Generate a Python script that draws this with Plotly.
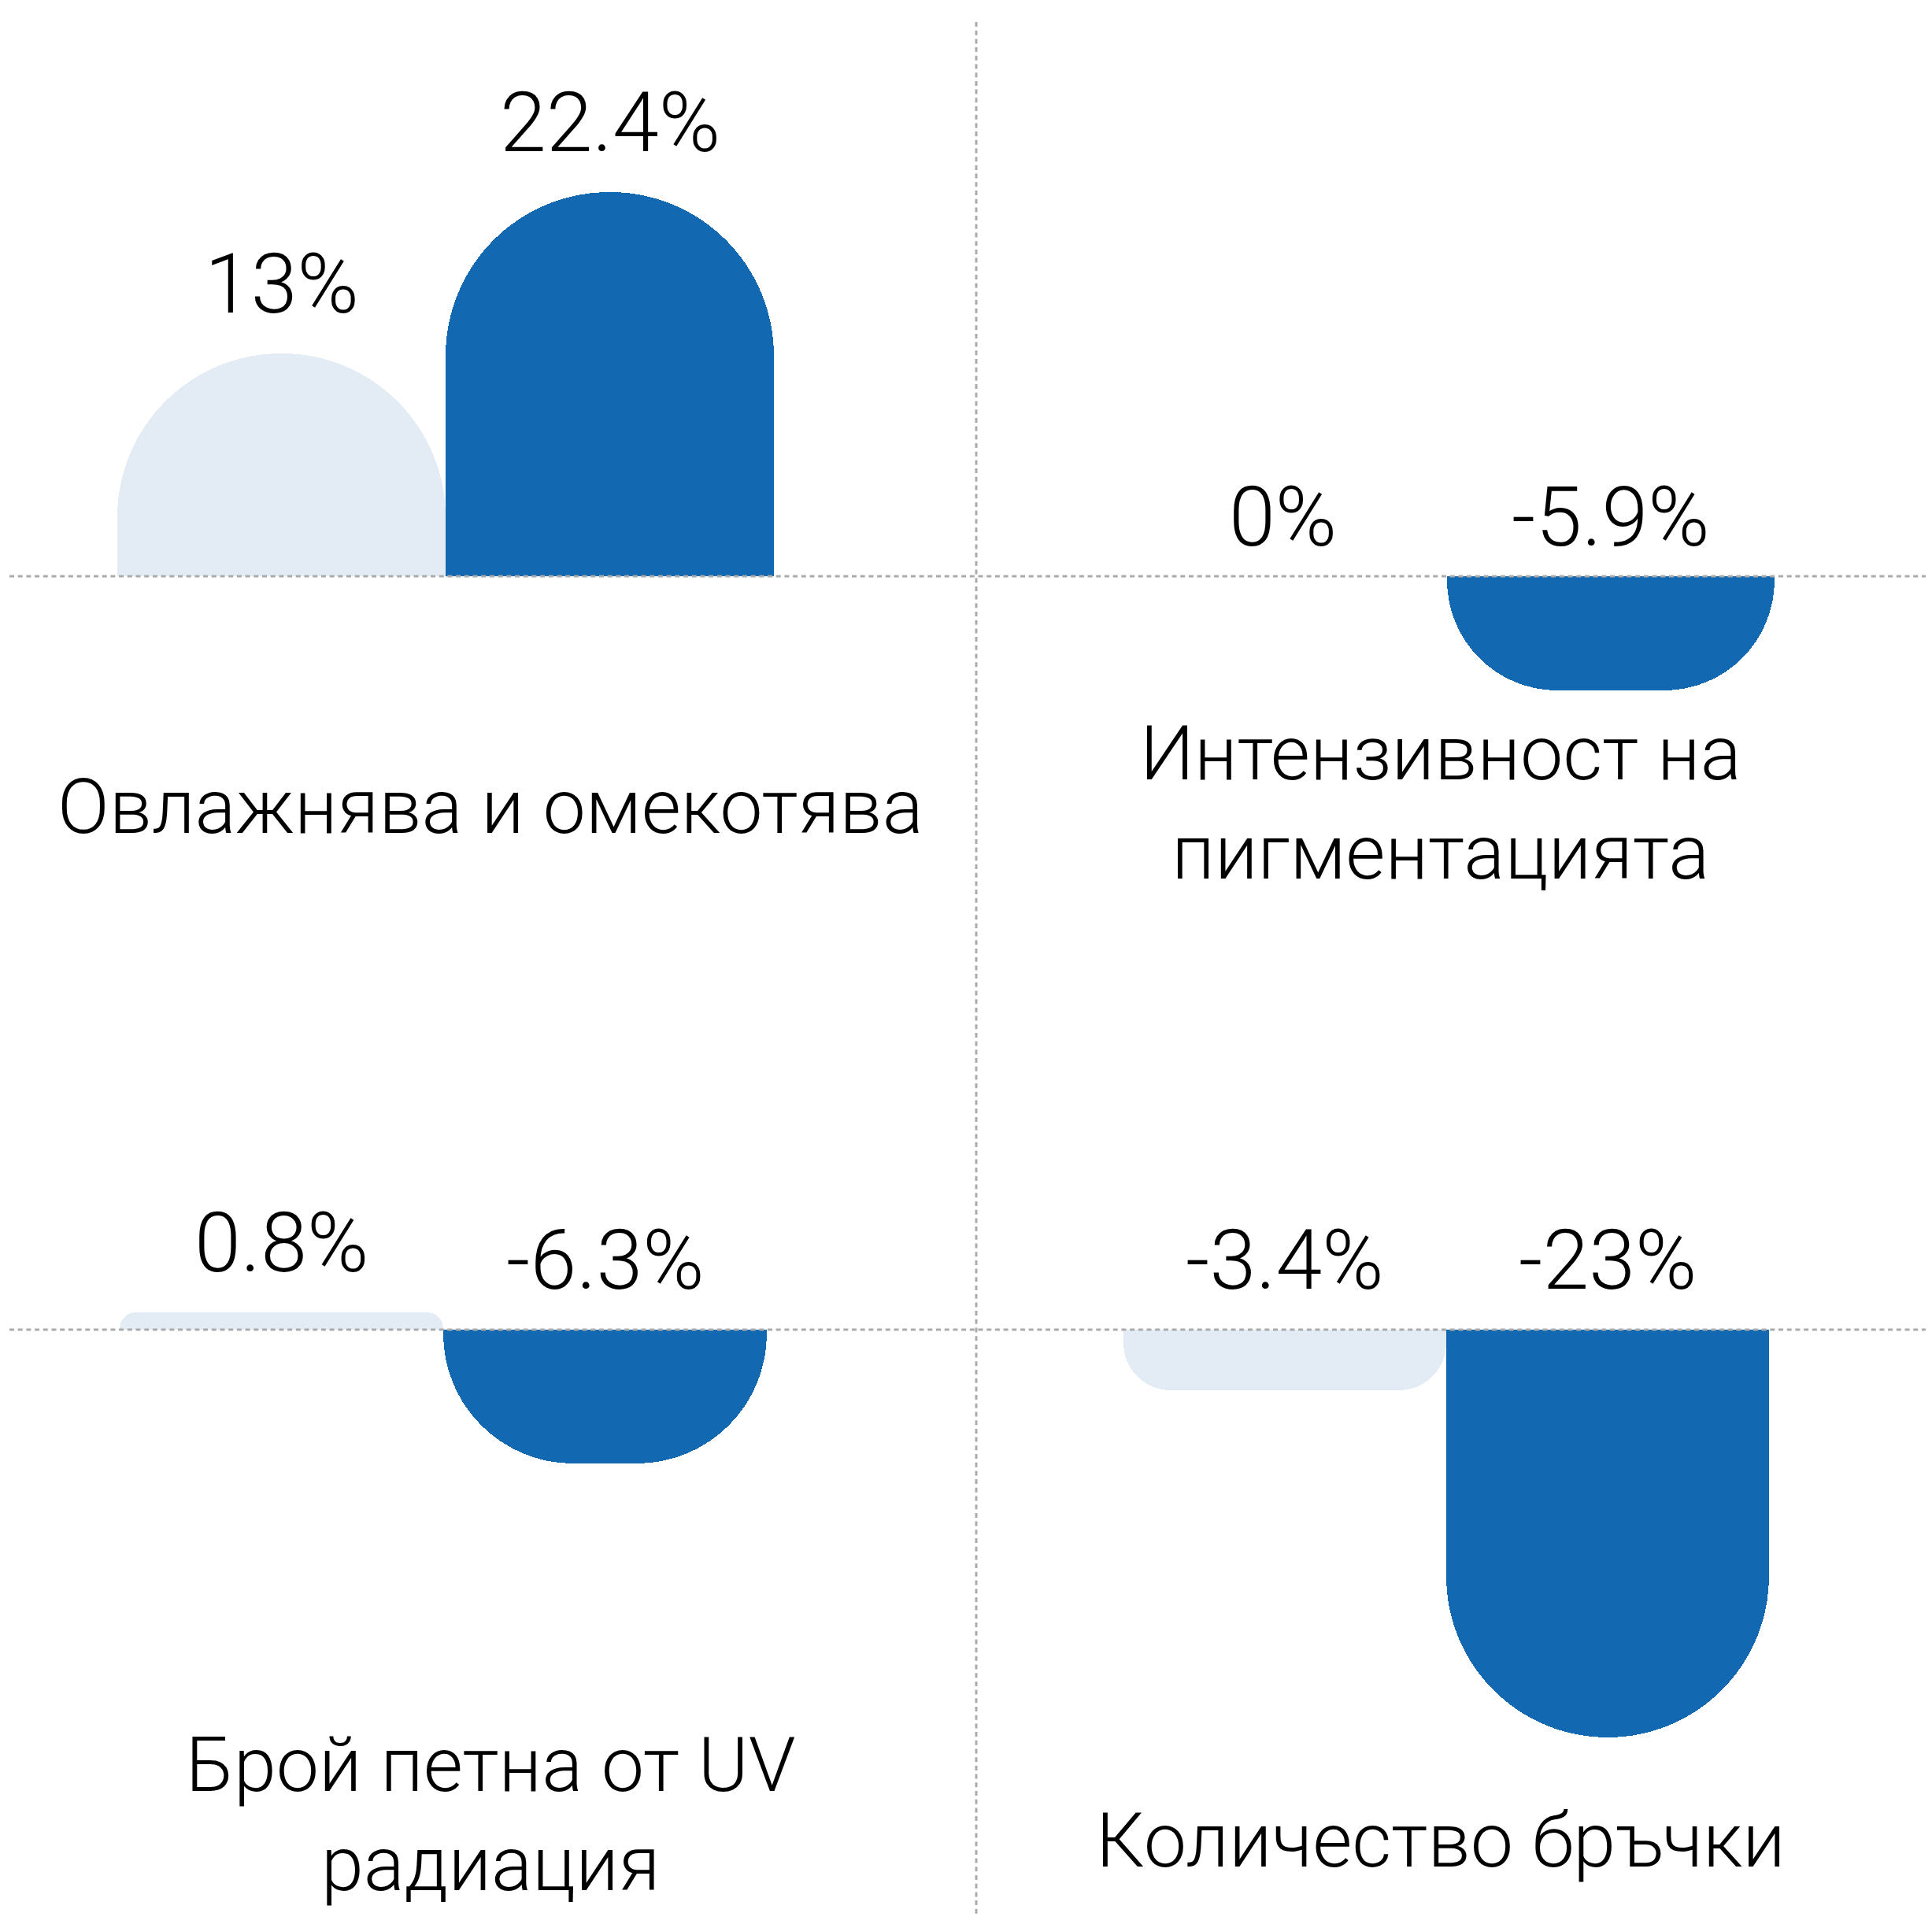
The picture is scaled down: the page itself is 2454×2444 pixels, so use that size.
import plotly.graph_objects as go

# ---------------- data ----------------
panel_titles = [
    "Овлажнява и омекотява",
    "Интензивност на<br>пигментацията",
    "Брой петна от UV<br>радиация",
    "Количество бръчки",
]
control_values = [13, 0, 0.8, -3.4]
product_values = [22.4, -5.9, -6.3, -23]
control_labels = ["13%", "0%", "0.8%", "-3.4%"]
product_labels = ["22.4%", "-5.9%", "-6.3%", "-23%"]

# ---------------- layout / style ----------------
OFF = 8                      # default page body margin of the html
W, H = 2454 - 2 * OFF, 2444 - 2 * OFF
FONT = "Roboto, Liberation Sans, Arial, sans-serif"
WEIGHT = 300
LIGHT = "#E3ECF4"
BLUE = "#1268B1"
GRID = "#ABABAB"


def px(v):
    return v - OFF


# per panel (page pixel coordinates): x extent of bar pair, zero-line y, px per unit,
# y domain, value-label offset, corner radii (control, product), title centre
panels = [
    dict(xpx=(149, 983), zero=732, ppu=21.8, ydom=(0.5, 1.0), off=88,
         rc="50%", rp="50%", title=(623, 1025)),
    dict(xpx=(1421, 2254), zero=732, ppu=24.5, ydom=(0.5, 1.0), off=75,
         rc="50%", rp=140, title=(1830, 1020)),
    dict(xpx=(152, 974), zero=1689, ppu=27.0, ydom=(0.0, 0.5), off=88,
         rc=21, rp=165, title=(623, 2305)),
    dict(xpx=(1427, 2247), zero=1689, ppu=22.5, ydom=(0.0, 0.5), off=88,
         rc=60, rp="50%", title=(1830, 2338)),
]

fig = go.Figure()
annotations = []
layout_axes = {}

for i, p in enumerate(panels):
    n = i + 1
    xa = "x" if n == 1 else f"x{n}"
    ya = "y" if n == 1 else f"y{n}"
    d0, d1 = p["ydom"]
    pt = H * (1 - d1)
    pb = H * (1 - d0)
    zero = px(p["zero"])
    r1 = (zero - pt) / p["ppu"]
    r0 = -(pb - zero) / p["ppu"]

    layout_axes["xaxis" if n == 1 else f"xaxis{n}"] = dict(
        domain=[px(p["xpx"][0]) / W, px(p["xpx"][1]) / W], range=[-0.5, 1.5],
        visible=False, fixedrange=True, anchor=ya)
    layout_axes["yaxis" if n == 1 else f"yaxis{n}"] = dict(
        domain=[d0, d1], range=[r0, r1], visible=False, fixedrange=True,
        anchor=xa)

    fig.add_trace(go.Bar(
        x=[0], y=[control_values[i]], width=[1], xaxis=xa, yaxis=ya,
        marker=dict(color=LIGHT, line=dict(width=0), cornerradius=p["rc"]),
        showlegend=False, hoverinfo="skip"))
    fig.add_trace(go.Bar(
        x=[1], y=[product_values[i]], width=[1], xaxis=xa, yaxis=ya,
        marker=dict(color=BLUE, line=dict(width=0), cornerradius=p["rp"]),
        showlegend=False, hoverinfo="skip"))

    for xi, (v, lab) in enumerate([(control_values[i], control_labels[i]),
                                   (product_values[i], product_labels[i])]):
        annotations.append(dict(
            x=xi, y=max(v, 0), xref=xa, yref=ya, text=lab, showarrow=False,
            xanchor="center", yanchor="middle", yshift=p["off"],
            font=dict(family=FONT, size=106, color="#000000", weight=WEIGHT)))

    tx, ty = p["title"]
    annotations.append(dict(
        x=px(tx) / W, y=1 - px(ty) / H, xref="paper", yref="paper",
        text=panel_titles[i], showarrow=False, xanchor="center",
        yanchor="middle", align="center",
        font=dict(family=FONT, size=97, color="#000000", weight=WEIGHT)))

shapes = []
for ya in ["y", "y3"]:
    shapes.append(dict(type="line", xref="paper", yref=ya,
                       x0=px(12) / W, x1=min(px(2450) / W, 1.0),
                       y0=0, y1=0, layer="above",
                       line=dict(color=GRID, width=3, dash="6px,4.7px")))
shapes.append(dict(type="line", xref="paper", yref="paper",
                   x0=px(1240) / W, x1=px(1240) / W,
                   y0=1 - px(28) / H, y1=max(1 - px(2434) / H, 0.0), layer="above",
                   line=dict(color=GRID, width=3, dash="6px,4.7px")))

fig.update_layout(
    width=W, height=H, margin=dict(l=0, r=0, t=0, b=0),
    paper_bgcolor="white", plot_bgcolor="rgba(0,0,0,0)",
    barmode="overlay", bargap=0, showlegend=False,
    annotations=annotations, shapes=shapes,
    font=dict(family=FONT),
    **layout_axes,
)

fig.write_html("out.html")
